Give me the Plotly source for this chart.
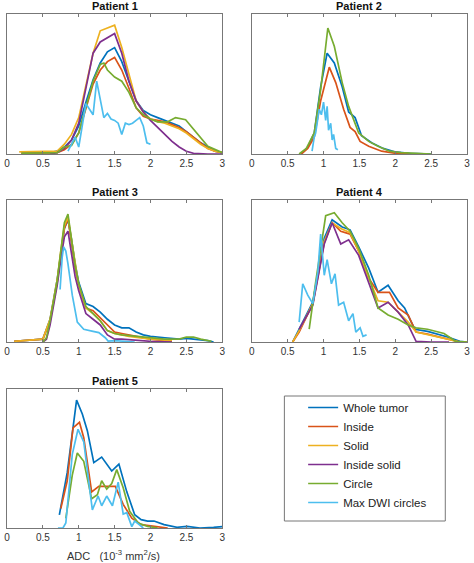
import plotly.graph_objects as go

SERIES = ["Whole tumor", "Inside", "Solid", "Inside solid", "Circle", "Max DWI circles"]
COLORS = ["#0072BD", "#D95319", "#EDB120", "#7E2F8E", "#77AC30", "#4DBEEE"]
TITLES = ["Patient 1", "Patient 2", "Patient 3", "Patient 4", "Patient 5"]
X_TICKS = [0, 0.5, 1, 1.5, 2, 2.5, 3]
X_TICK_LABELS = ["0", "0.5", "1", "1.5", "2", "2.5", "3"]

# relative frequency (normalised to panel maximum scale) vs ADC
P1 = {
    "Whole tumor": ([0.2, 0.6, 0.7, 0.8, 0.9, 1.0, 1.1, 1.2, 1.3, 1.4, 1.5, 1.6, 1.7, 1.8, 1.9, 2.0, 2.1, 2.2, 2.3, 2.4, 2.5, 2.6, 2.7, 2.8, 2.9, 3.0],
                    [0.01, 0.01, 0.02, 0.05, 0.1, 0.2, 0.37, 0.53, 0.65, 0.73, 0.76, 0.66, 0.52, 0.38, 0.31, 0.28, 0.26, 0.24, 0.22, 0.2, 0.16, 0.12, 0.08, 0.05, 0.02, 0.01]),
    "Inside": ([0.2, 0.6, 0.7, 0.8, 0.9, 1.0, 1.1, 1.2, 1.3, 1.4, 1.5, 1.6, 1.7, 1.8, 1.9, 2.0, 2.1, 2.2, 2.3, 2.4, 2.5, 2.6, 2.7, 2.8, 2.9, 3.0],
               [0.005, 0.005, 0.01, 0.03, 0.07, 0.15, 0.33, 0.5, 0.6, 0.66, 0.69, 0.6, 0.47, 0.33, 0.27, 0.25, 0.24, 0.23, 0.21, 0.19, 0.16, 0.12, 0.08, 0.04, 0.02, 0.01]),
    "Solid": ([0.17, 0.6, 0.7, 0.8, 0.9, 1.0, 1.1, 1.2, 1.3, 1.4, 1.5, 1.6, 1.7, 1.8, 1.9, 2.0, 2.1, 2.2, 2.3, 2.4, 2.5, 2.6, 2.7, 2.8, 2.9, 3.0],
              [0.015, 0.015, 0.02, 0.07, 0.14, 0.26, 0.5, 0.72, 0.88, 0.9, 0.92, 0.76, 0.56, 0.38, 0.3, 0.25, 0.23, 0.22, 0.2, 0.18, 0.15, 0.11, 0.07, 0.04, 0.02, 0.01]),
    "Inside solid": ([0.6, 0.7, 0.8, 0.9, 1.0, 1.1, 1.2, 1.3, 1.4, 1.5, 1.6, 1.7, 1.8, 1.9, 2.0, 2.1, 2.2, 2.3, 2.4, 2.5, 2.6, 2.7, 2.8, 2.9, 3.0],
                     [0.0, 0.01, 0.04, 0.1, 0.22, 0.48, 0.72, 0.8, 0.83, 0.86, 0.72, 0.52, 0.38, 0.3, 0.24, 0.19, 0.14, 0.09, 0.05, 0.02, 0.005, 0.0, 0.0, 0.0, 0.0]),
    "Circle": ([0.2, 0.6, 0.7, 0.8, 0.9, 1.0, 1.1, 1.2, 1.3, 1.35, 1.4, 1.5, 1.6, 1.7, 1.8, 1.9, 2.0, 2.1, 2.24, 2.35, 2.49, 2.65, 2.8, 3.0],
               [0.005, 0.005, 0.01, 0.05, 0.06, 0.15, 0.33, 0.52, 0.64, 0.65, 0.6, 0.55, 0.52, 0.44, 0.33, 0.28, 0.25, 0.23, 0.23, 0.26, 0.245, 0.15, 0.055, 0.01]),
    "Max DWI circles": ([0.85, 0.9, 0.95, 1.0, 1.05, 1.1, 1.15, 1.2, 1.25, 1.3, 1.35, 1.4, 1.45, 1.5, 1.55, 1.6, 1.65, 1.7, 1.75, 1.8, 1.85, 1.9, 1.95, 2.0],
                        [0.02, 0.07, 0.12, 0.05, 0.22, 0.36, 0.32, 0.28, 0.52, 0.4, 0.26, 0.29, 0.25, 0.24, 0.22, 0.14, 0.22, 0.21, 0.22, 0.24, 0.26, 0.2, 0.08, 0.07]),
}

P2 = {
    "Whole tumor": ([0.69, 0.78, 0.87, 0.96, 1.05, 1.15, 1.26, 1.35, 1.44, 1.53, 1.67, 1.83, 1.99, 2.2, 2.5],
                    [0.0, 0.05, 0.15, 0.48, 0.72, 0.65, 0.48, 0.3, 0.26, 0.13, 0.08, 0.04, 0.015, 0.005, 0.0]),
    "Inside": ([0.69, 0.78, 0.87, 0.96, 1.08, 1.17, 1.28, 1.37, 1.44, 1.51, 1.63, 1.81, 2.0, 2.2],
               [0.0, 0.04, 0.12, 0.38, 0.62, 0.51, 0.32, 0.19, 0.16, 0.09, 0.055, 0.02, 0.005, 0.0]),
    "Circle": ([0.66, 0.76, 0.87, 0.96, 1.06, 1.15, 1.26, 1.35, 1.49, 1.63, 1.76, 1.92, 2.08, 2.27, 2.5],
               [0.0, 0.04, 0.15, 0.46, 0.9, 0.77, 0.51, 0.34, 0.15, 0.09, 0.055, 0.02, 0.01, 0.005, 0.0]),
    "Max DWI circles": ([0.84, 0.87, 0.89, 0.92, 0.94, 0.97, 1.0, 1.03, 1.05, 1.07, 1.1, 1.12, 1.14, 1.17, 1.2],
                        [0.02, 0.12, 0.15, 0.25, 0.32, 0.28, 0.37, 0.24, 0.34, 0.17, 0.22, 0.1, 0.14, 0.04, 0.03]),
}

P3 = {
    "Whole tumor": ([0.1, 0.5, 0.6, 0.7, 0.75, 0.8, 0.85, 0.9, 0.95, 1.0, 1.1, 1.2, 1.3, 1.4, 1.5, 1.6, 1.7, 1.8, 1.9, 2.0, 2.2, 2.4, 2.5, 2.6, 2.8, 2.88],
                    [0.005, 0.02, 0.16, 0.44, 0.62, 0.8, 0.86, 0.72, 0.55, 0.42, 0.27, 0.25, 0.21, 0.16, 0.12, 0.1, 0.1, 0.07, 0.05, 0.04, 0.03, 0.02, 0.025, 0.02, 0.01, 0.0]),
    "Inside": ([0.1, 0.5, 0.6, 0.7, 0.75, 0.8, 0.85, 0.9, 0.95, 1.0, 1.1, 1.2, 1.3, 1.4, 1.5, 1.6, 1.7, 1.8, 2.0, 2.2, 2.3],
               [0.005, 0.02, 0.15, 0.42, 0.62, 0.8, 0.87, 0.7, 0.52, 0.4, 0.24, 0.22, 0.17, 0.12, 0.07, 0.06, 0.05, 0.04, 0.02, 0.01, 0.005]),
    "Solid": ([0.1, 0.5, 0.6, 0.7, 0.75, 0.8, 0.85, 0.9, 0.95, 1.0, 1.1, 1.2, 1.3, 1.4, 1.5, 1.6, 1.7, 2.0, 2.3],
              [0.005, 0.02, 0.16, 0.44, 0.64, 0.82, 0.88, 0.72, 0.53, 0.4, 0.24, 0.2, 0.15, 0.08, 0.06, 0.05, 0.04, 0.02, 0.01]),
    "Inside solid": ([0.5, 0.55, 0.6, 0.7, 0.75, 0.8, 0.85, 0.9, 0.95, 1.0, 1.1, 1.2, 1.3, 1.4, 1.5, 1.6, 1.8, 2.0, 2.3],
                     [0.0, 0.02, 0.12, 0.4, 0.58, 0.74, 0.78, 0.62, 0.46, 0.36, 0.2, 0.16, 0.12, 0.05, 0.02, 0.02, 0.01, 0.005, 0.0]),
    "Circle": ([0.5, 0.55, 0.6, 0.7, 0.75, 0.8, 0.85, 0.9, 0.95, 1.0, 1.1, 1.2, 1.3, 1.4, 1.5, 1.6, 1.8, 2.0, 2.2, 2.4, 2.5, 2.6, 2.7, 2.85],
               [0.0, 0.03, 0.15, 0.43, 0.64, 0.84, 0.9, 0.72, 0.54, 0.41, 0.25, 0.2, 0.15, 0.08, 0.06, 0.05, 0.04, 0.03, 0.02, 0.02, 0.035, 0.035, 0.02, 0.005]),
    "Max DWI circles": ([0.74, 0.77, 0.79, 0.82, 0.85, 0.91, 0.98, 1.07, 1.2, 1.28, 1.37, 1.41, 1.5, 1.78],
                        [0.37, 0.6, 0.67, 0.64, 0.55, 0.33, 0.14, 0.09, 0.075, 0.066, 0.03, 0.007, 0.01, 0.0]),
}

P4 = {
    "Whole tumor": ([0.57, 0.66, 0.85, 1.01, 1.12, 1.26, 1.37, 1.49, 1.63, 1.76, 1.9, 2.04, 2.13, 2.27, 2.45, 2.73, 2.9, 3.0],
                    [0.0, 0.09, 0.28, 0.73, 0.86, 0.81, 0.79, 0.67, 0.52, 0.35, 0.4, 0.29, 0.24, 0.09, 0.075, 0.035, 0.005, 0.0]),
    "Inside": ([0.57, 0.66, 0.85, 1.01, 1.12, 1.24, 1.37, 1.49, 1.63, 1.76, 1.92, 2.04, 2.18, 2.29, 2.45, 2.73, 2.9, 3.0],
               [0.0, 0.07, 0.27, 0.7, 0.84, 0.78, 0.76, 0.64, 0.45, 0.35, 0.35, 0.24, 0.19, 0.07, 0.055, 0.02, 0.0, 0.0]),
    "Solid": ([0.57, 0.66, 0.85, 1.01, 1.12, 1.24, 1.37, 1.49, 1.63, 1.76, 1.9, 2.04, 2.18, 2.29, 2.45, 2.73, 2.9, 3.0],
              [0.0, 0.08, 0.27, 0.71, 0.84, 0.8, 0.77, 0.64, 0.45, 0.29, 0.28, 0.21, 0.14, 0.07, 0.05, 0.02, 0.0, 0.0]),
    "Inside solid": ([0.66, 0.85, 1.01, 1.12, 1.24, 1.35, 1.49, 1.63, 1.76, 1.9, 2.04, 2.18, 2.29, 2.5, 2.75],
                     [0.09, 0.26, 0.69, 0.84, 0.69, 0.72, 0.61, 0.42, 0.24, 0.28, 0.21, 0.12, 0.005, 0.0, 0.0]),
    "Circle": ([0.8, 0.89, 1.03, 1.15, 1.26, 1.37, 1.49, 1.63, 1.76, 1.9, 2.04, 2.18, 2.29, 2.45, 2.68, 2.84, 3.0],
               [0.09, 0.42, 0.89, 0.91, 0.84, 0.78, 0.66, 0.47, 0.24, 0.19, 0.16, 0.12, 0.1, 0.09, 0.06, 0.005, 0.0]),
    "Max DWI circles": ([0.66, 0.71, 0.78, 0.85, 0.92, 0.96, 1.01, 1.05, 1.11, 1.16, 1.21, 1.28, 1.35, 1.41, 1.45, 1.51, 1.55, 1.6],
                        [0.14, 0.41, 0.33, 0.27, 0.49, 0.76, 0.47, 0.58, 0.41, 0.48, 0.26, 0.28, 0.15, 0.2, 0.07, 0.1, 0.04, 0.05]),
}

P5 = {
    "Whole tumor": ([0.73, 0.84, 0.97, 1.05, 1.12, 1.21, 1.32, 1.46, 1.56, 1.67, 1.78, 1.87, 1.96, 2.05, 2.19, 2.37, 2.51, 2.69, 2.88, 3.0],
                    [0.095, 0.4, 0.92, 0.82, 0.7, 0.47, 0.51, 0.41, 0.46, 0.26, 0.096, 0.06, 0.05, 0.05, 0.024, 0.005, 0.012, 0.0, 0.005, 0.01]),
    "Inside": ([0.75, 0.84, 0.92, 1.01, 1.07, 1.18, 1.28, 1.37, 1.51, 1.62, 1.74, 1.87, 2.05, 2.24],
               [0.14, 0.34, 0.72, 0.76, 0.65, 0.26, 0.3, 0.3, 0.3, 0.17, 0.07, 0.024, 0.012, 0.0]),
    "Circle": ([0.82, 0.91, 0.98, 1.07, 1.18, 1.26, 1.32, 1.39, 1.46, 1.53, 1.62, 1.71, 1.83, 1.96, 2.1],
               [0.07, 0.38, 0.54, 0.48, 0.21, 0.24, 0.34, 0.28, 0.32, 0.42, 0.29, 0.12, 0.036, 0.012, 0.0]),
    "Max DWI circles": ([0.71, 0.78, 0.82, 0.91, 0.99, 1.07, 1.19, 1.27, 1.32, 1.39, 1.47, 1.55, 1.62, 1.67, 1.74, 1.78, 1.83, 1.9],
                        [0.0, 0.0, 0.036, 0.53, 0.71, 0.62, 0.13, 0.23, 0.16, 0.23, 0.16, 0.33, 0.1, 0.11, 0.01, 0.05, 0.03, 0.0]),
}

PANELS = [P1, P2, P3, P4, P5]

W, H = 474, 563
ML, MR, MT, MB = 4, 4, 14, 35
PW, PH = W - ML - MR, H - MT - MB


def px_x(a, b):
    return [(a - ML) / PW, (b - ML) / PW]


def px_y(top, bottom):
    return [(H - MB - bottom) / PH, (H - MB - top) / PH]


def pyy(y):
    return (H - MB - y) / PH


X_DOMAINS = [px_x(4, 222), px_x(252, 470)]
Y_DOMAINS = [px_y(14, 154), px_y(200, 342), px_y(389, 528)]
TITLE_Y = [6, 192, 381]
FONT = "Liberation Sans, Arial, sans-serif"

fig = go.Figure()
layout = {}
annotations = []
shown = set()
for i, panel in enumerate(PANELS):
    row, col = divmod(i, 2)
    n = i + 1
    xa = "x" if n == 1 else f"x{n}"
    ya = "y" if n == 1 else f"y{n}"
    for s, c in zip(SERIES, COLORS):
        if s not in panel:
            continue
        xs, ys = panel[s]
        fig.add_trace(go.Scatter(
            x=xs, y=ys, mode="lines", name=s, xaxis=xa, yaxis=ya,
            line=dict(color=c, width=1.7),
            showlegend=(s not in shown),
        ))
        shown.add(s)
    axcommon = dict(showline=True, linecolor="#777777", linewidth=1, mirror="ticks",
                    showgrid=False, zeroline=False)
    layout["xaxis" if n == 1 else f"xaxis{n}"] = dict(
        domain=X_DOMAINS[col], anchor=ya, range=[0, 3],
        tickvals=X_TICKS, ticktext=X_TICK_LABELS, ticks="inside", ticklen=3,
        ticklabeloverflow="allow",
        tickcolor="#777777", tickfont=dict(size=10, color="#333333", family=FONT),
        **axcommon)
    layout["yaxis" if n == 1 else f"yaxis{n}"] = dict(
        domain=Y_DOMAINS[row], anchor=xa, range=[0, 1], showticklabels=False, ticks="",
        **axcommon)
    cx = (X_DOMAINS[col][0] + X_DOMAINS[col][1]) / 2
    annotations.append(dict(
        text=f"<b>{TITLES[i]}</b>", x=cx, xref="paper", y=pyy(TITLE_Y[row]),
        yref="paper", showarrow=False, xanchor="center", yanchor="middle",
        font=dict(size=11, color="#111111", family=FONT)))

annotations.append(dict(
    text="ADC   (10<sup>-3</sup> mm<sup>2</sup>/s)", x=(112 - ML) / PW, xref="paper",
    y=pyy(555), yref="paper", showarrow=False, xanchor="center", yanchor="middle",
    font=dict(size=11, color="#333333", family=FONT)))

shapes = [dict(type="rect", xref="paper", yref="paper",
               x0=(285 - ML) / PW, x1=(448 - ML) / PW, y0=pyy(521), y1=pyy(396),
               line=dict(color="#777777", width=1), fillcolor="rgba(0,0,0,0)", layer="below")]

fig.update_layout(
    **layout,
    annotations=annotations,
    shapes=shapes,
    width=W, height=H,
    margin=dict(l=ML, r=MR, t=MT, b=MB),
    paper_bgcolor="white", plot_bgcolor="white",
    showlegend=True,
    legend=dict(
        x=(304 - ML) / PW, y=pyy(393), xanchor="left", yanchor="top",
        borderwidth=0, bgcolor="rgba(0,0,0,0)",
        font=dict(size=11.5, color="#222222", family=FONT),
        tracegroupgap=0, itemwidth=30,
    ),
)

# the page's default body margin would shift the figure; remove it
fig.write_html("out.html", config={"displayModeBar": False},
               post_script="document.body.style.margin='0';")
